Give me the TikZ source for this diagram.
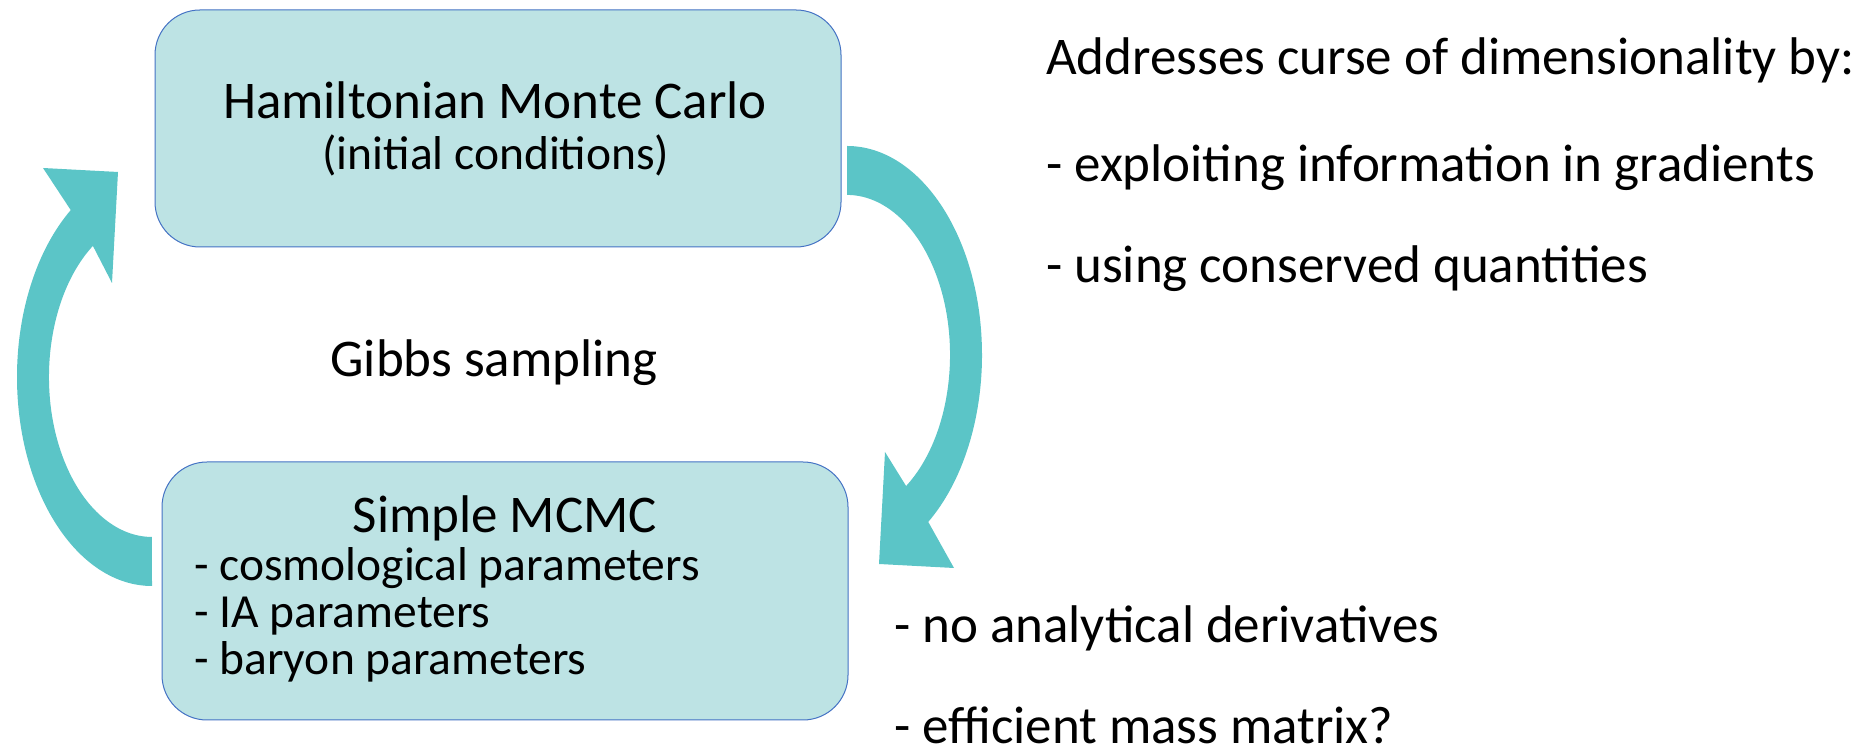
\documentclass[tikz,border=0pt]{standalone}
\usepackage{fontspec}
\setmainfont{Carlito}
\definecolor{boxfill}{RGB}{189,227,228}
\definecolor{boxline}{RGB}{68,114,196}
\definecolor{arrowc}{RGB}{91,197,199}
\begin{document}
\begin{tikzpicture}[x=1pt,y=1pt,
  box/.style={draw=boxline, fill=boxfill, line width=1pt, rounded corners=45pt, inner sep=0pt},
  big/.style={font=\fontsize{53}{60}\selectfont, inner sep=0pt},
  small/.style={font=\fontsize{47.5}{54}\selectfont, inner sep=0pt},
  blockarrow/.style={fill=arrowc, draw=none}]
\useasboundingbox (0,0) rectangle (1870,754);
% boxes
\node[box, minimum width=686pt, minimum height=237pt] (hmc) at (498,625.5) {};
\node[box, minimum width=686pt, minimum height=258pt] (mcmc) at (505,163) {};
% circular block arrows
\fill[blockarrow] (847,608) arc[start angle=90, end angle=-53, x radius=135, y radius=209]
  -- (954,186) -- (879,190) -- (885,302) -- (906.1,268.0)
  arc[start angle=-55, end angle=90, x radius=103, y radius=160] -- cycle;
\fill[blockarrow] (152,168) arc[start angle=270, end angle=127, x radius=135, y radius=209]
  -- (43,586) -- (118,582) -- (112,471) -- (92.9,508.1)
  arc[start angle=125, end angle=270, x radius=103, y radius=160] -- cycle;
% texts
\node[big, anchor=base] (t1) at (495,635) {Hamiltonian Monte Carlo};
\node[small, anchor=base] (t2) at (496,584) {(initial conditions)};
\node[big, anchor=base] (gibbs) at (494,377) {Gibbs sampling};
\node[big, anchor=base] (t3) at (505,221) {Simple MCMC};
\node[small, anchor=base west] (b1) at (194,173) {- cosmological parameters};
\node[small, anchor=base west] (b2) at (194,126) {- IA parameters};
\node[small, anchor=base west] (b3) at (194,79) {- baryon parameters};
\node[big, anchor=base west] (r1) at (1046,679) {Addresses curse of dimensionality by:};
\node[big, anchor=base west] (r2) at (1046,572) {- exploiting information in gradients};
\node[big, anchor=base west] (r3) at (1046,471) {- using conserved quantities};
\node[big, anchor=base west] (r4) at (894,111) {- no analytical derivatives};
\node[big, anchor=base west] (r5) at (894,10) {- efficient mass matrix?};
\end{tikzpicture}
\end{document}
